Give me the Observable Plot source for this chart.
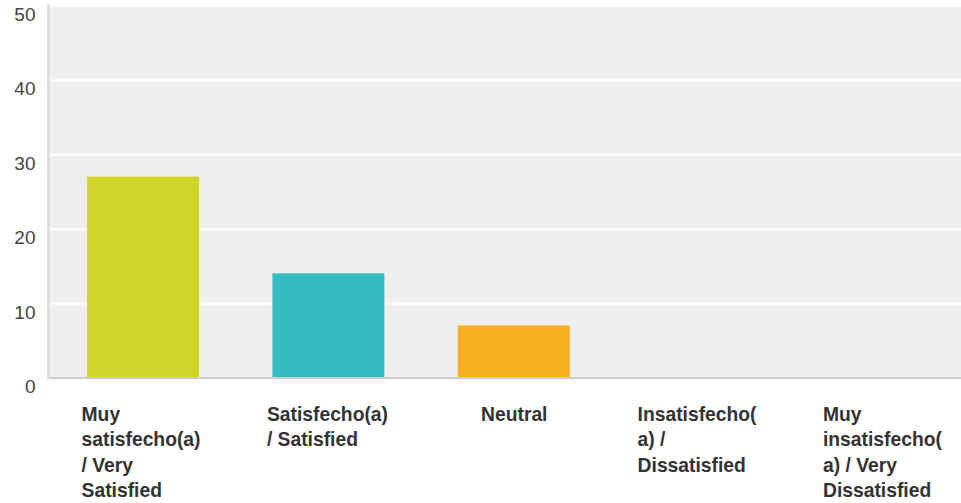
<!DOCTYPE html>
<html>
<head>
<meta charset="utf-8">
<script src="https://cdn.jsdelivr.net/npm/d3@7"></script>
<script src="https://cdn.jsdelivr.net/npm/@observablehq/plot@0.6"></script>
<style>
  html, body { margin: 0; padding: 0; background: #ffffff; }
  svg { display: block; }
</style>
</head>
<body>
<div id="chart"></div>
<script>
const categories = [
  "Muy satisfecho(a) / Very Satisfied",
  "Satisfecho(a) / Satisfied",
  "Neutral",
  "Insatisfecho(a) / Dissatisfied",
  "Muy insatisfecho(a) / Very Dissatisfied"
];
const tickLabels = [
  "Muy\nsatisfecho(a)\n/ Very\nSatisfied",
  "Satisfecho(a)\n/ Satisfied",
  "Neutral",
  "Insatisfecho(\na) /\nDissatisfied",
  "Muy\ninsatisfecho(\na) / Very\nDissatisfied"
];
const values = [27, 14, 7, 0, 0];
const colors = ["#d0d52a", "#35bec1", "#f7b01f", "#d0d52a", "#35bec1"];
const yTicks = [0, 10, 20, 30, 40, 50];

const data = categories.map((c, i) => ({cat: c, value: values[i]}));
const labelData = categories.map((c, i) => ({cat: c, label: tickLabels[i]}));
const multiLine = labelData.filter(d => d.label.includes("\n"));
const singleLine = labelData.filter(d => !d.label.includes("\n"));

const labelStyle = {
  x: "cat", text: "label", frameAnchor: "bottom", lineAnchor: "top",
  dy: 25, fontSize: 19.3, fontWeight: "bold", fill: "#333333", lineHeight: 1.31
};

const chart = Plot.plot({
  width: 961,
  height: 503,
  marginLeft: 48,
  marginRight: 0,
  marginTop: 5.5,
  marginBottom: 125.5,
  style: {fontFamily: "Arial, 'Liberation Sans', Helvetica, sans-serif", background: "#ffffff"},
  x: {domain: categories, range: [50, 977.5], paddingInner: 0.396, paddingOuter: 0.2, round: false, axis: null},
  y: {domain: [0, 50], axis: null, label: null},
  color: {domain: categories, range: colors},
  marks: [
    Plot.frame({fill: "#efefef", stroke: null}),
    Plot.ruleY(yTicks, {stroke: "#ffffff", strokeWidth: 2}),
    Plot.barY(data, {x: "cat", y: "value", fill: "cat"}),
    Plot.ruleY([0], {stroke: "#cccccc", strokeWidth: 2}),
    Plot.frame({anchor: "left", stroke: "#dddddd", strokeWidth: 3}),
    Plot.axisY(yTicks, {tickSize: 0, tickPadding: 13, dy: 9, fontSize: 19, fill: "#444444", textAnchor: "end", label: null}),
    Plot.text(multiLine, {...labelStyle, textAnchor: "start", dx: -62}),
    Plot.text(singleLine, {...labelStyle, textAnchor: "middle"})
  ]
});
document.getElementById("chart").appendChild(chart);
</script>
</body>
</html>
